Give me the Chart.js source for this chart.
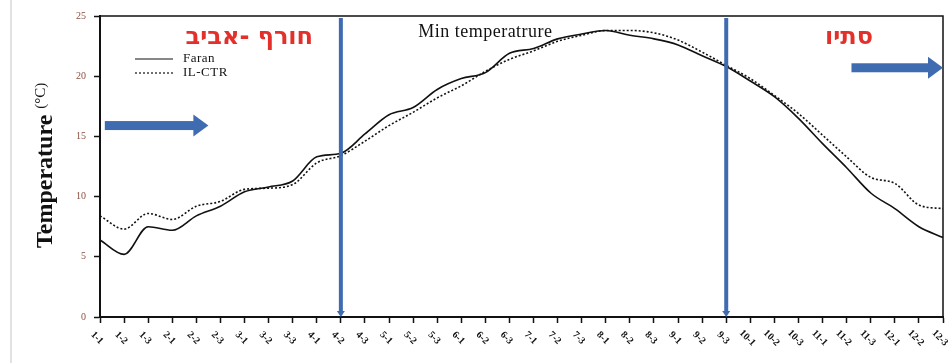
<!DOCTYPE html>
<html>
<head>
<meta charset="utf-8">
<script src="https://cdn.jsdelivr.net/npm/chart.js@4.4.0/dist/chart.umd.min.js"></script>
<style>
    body { margin: 0; background: #fff; }
    #caixa { width: 951px; height: 363px; position: relative; }
</style>
</head>
<body>
<div id="caixa"><canvas id="tempChart"></canvas></div>
<script>
// dekadas (mes-dekada)
var rotulos = ['1-1', '1-2', '1-3', '2-1', '2-2', '2-3', '3-1', '3-2', '3-3', '4-1', '4-2', '4-3',
    '5-1', '5-2', '5-3', '6-1', '6-2', '6-3', '7-1', '7-2', '7-3', '8-1', '8-2', '8-3',
    '9-1', '9-2', '9-3', '10-1', '10-2', '10-3', '11-1', '11-2', '11-3', '12-1', '12-2', '12-3']

var faran = [6.4, 5.2, 7.5, 7.2, 8.4, 9.2, 10.4, 10.8, 11.3, 13.3, 13.6, 15.2,
    16.8, 17.4, 18.9, 19.8, 20.3, 21.9, 22.3, 23.1, 23.5, 23.8, 23.4, 23.1,
    22.6, 21.7, 20.8, 19.6, 18.3, 16.5, 14.4, 12.4, 10.3, 9.0, 7.5, 6.6]

var ilCtr = [8.4, 7.3, 8.6, 8.1, 9.2, 9.6, 10.6, 10.7, 11.0, 12.8, 13.4, 14.6,
    15.9, 17.0, 18.2, 19.2, 20.4, 21.4, 22.1, 22.9, 23.4, 23.8, 23.8, 23.6,
    23.0, 22.0, 20.9, 19.8, 18.4, 16.9, 15.1, 13.3, 11.6, 11.1, 9.3, 9.0]

var marcos = ['4-2', '9-3']
var estacoes = ['חורף -אביב', 'סתיו']

var serif = '"Liberation Serif", "DejaVu Serif", serif'
var azul = '#3f6cb0'

function seta(ctx, x1, x2, y) {
    ctx.fillStyle = azul
    ctx.fillRect(x1, y - 4.5, x2 - x1 - 14, 9)
    ctx.beginPath()
    ctx.moveTo(x2 - 15, y - 11)
    ctx.lineTo(x2, y)
    ctx.lineTo(x2 - 15, y + 11)
    ctx.closePath()
    ctx.fill()
}

var decoracoes = {
    id: 'decoracoes',
    afterDatasetsDraw: function (chart) {
        var ctx = chart.ctx
        var area = chart.chartArea
        var sx = chart.scales.x
        var sy = chart.scales.y

        ctx.save()
        // moldura superior e direita
        ctx.strokeStyle = '#111'
        ctx.lineWidth = 1.5
        ctx.beginPath()
        ctx.moveTo(area.left, area.top)
        ctx.lineTo(area.right, area.top)
        ctx.lineTo(area.right, area.bottom)
        ctx.stroke()

        // linha cinza na borda esquerda
        ctx.strokeStyle = '#e2e2e2'
        ctx.lineWidth = 2
        ctx.beginPath()
        ctx.moveTo(11, 0)
        ctx.lineTo(11, chart.height)
        ctx.stroke()

        // separadores das estacoes
        marcos.forEach(function (m) {
            var px = sx.getPixelForValue(rotulos.indexOf(m))
            ctx.fillStyle = azul
            ctx.fillRect(px - 2, area.top + 2, 4, area.bottom - area.top - 6)
            ctx.beginPath()
            ctx.moveTo(px - 4, area.bottom - 6)
            ctx.lineTo(px + 4, area.bottom - 6)
            ctx.lineTo(px, area.bottom)
            ctx.closePath()
            ctx.fill()
        })

        seta(ctx, sx.getPixelForValue(0.2), sx.getPixelForValue(4.5), sy.getPixelForValue(15.9))
        seta(ctx, sx.getPixelForValue(31.2), area.right, sy.getPixelForValue(20.7))

        // nomes das estacoes
        ctx.fillStyle = '#e3302b'
        ctx.font = 'bold 24px "DejaVu Sans", "Liberation Sans", sans-serif'
        ctx.textAlign = 'center'
        ctx.textBaseline = 'middle'
        ctx.fillText(estacoes[0], sx.getPixelForValue(6.2), sy.getPixelForValue(23.2))
        ctx.fillText(estacoes[1], sx.getPixelForValue(31.1), sy.getPixelForValue(23.2))

        // titulo
        ctx.fillStyle = '#111'
        ctx.font = '18px ' + serif
        ctx.textBaseline = 'alphabetic'
        ctx.letterSpacing = '0.5px'
        ctx.fillText('Min temperatrure', sx.getPixelForValue(16), area.top + 21)

        // legenda
        ctx.font = '13px ' + serif
        ctx.textAlign = 'left'
        ctx.textBaseline = 'middle'
        chart.data.datasets.forEach(function (ds, i) {
            var ly = area.top + 43 + i * 14
            ctx.strokeStyle = '#111'
            ctx.lineWidth = 1.2
            ctx.setLineDash(ds.borderDash || [])
            ctx.beginPath()
            ctx.moveTo(area.left + 35, ly)
            ctx.lineTo(area.left + 73, ly)
            ctx.stroke()
            ctx.setLineDash([])
            ctx.fillText(ds.label, area.left + 83, ly)
        })
        ctx.letterSpacing = '0px'

        // rotulos do eixo x
        ctx.font = 'bold 10px ' + serif
        ctx.textAlign = 'center'
        rotulos.forEach(function (r, i) {
            ctx.save()
            ctx.translate(sx.getPixelForTick(i) - 3, area.bottom + 21)
            ctx.rotate(Math.PI / 4)
            ctx.fillText(r, 0, 0)
            ctx.restore()
        })

        // titulo do eixo y
        ctx.translate(52, 248)
        ctx.rotate(-Math.PI / 2)
        ctx.textAlign = 'left'
        ctx.textBaseline = 'alphabetic'
        ctx.font = 'bold 24px ' + serif
        ctx.fillText('Temperature', 0, 0)
        var w = ctx.measureText('Temperature ').width
        ctx.font = '15px ' + serif
        ctx.fillText('(°C)', w, -7)
        ctx.restore()
    }
}

var canvas = document.getElementById('tempChart')

var tempChart = new Chart(canvas, {
    type: 'line',
    data: {
        labels: rotulos,
        datasets: [{
            label: 'Faran',
            data: faran,
            borderColor: '#111',
            borderWidth: 1.6,
            pointRadius: 0,
            cubicInterpolationMode: 'monotone',
            fill: false,
        }, {
            label: 'IL-CTR',
            data: ilCtr,
            borderColor: '#111',
            borderWidth: 1.6,
            borderDash: [2, 2],
            pointRadius: 0,
            cubicInterpolationMode: 'monotone',
            fill: false,
        }],
    },
    options: {
        responsive: true,
        maintainAspectRatio: false,
        animation: false,
        layout: {
            padding: { left: 0, top: 16, right: 8, bottom: 0 }
        },
        plugins: {
            legend: { display: false },
            tooltip: { enabled: false },
        },
        scales: {
            x: {
                ticks: { display: false },
                grid: { drawOnChartArea: false, color: '#111', tickLength: 6, tickWidth: 1.5 },
                border: { color: '#111', width: 2 },
                afterFit: function (s) { s.height = 46 },
            },
            y: {
                min: 0,
                max: 25,
                ticks: { stepSize: 5, color: '#8a5040', padding: 8, font: { size: 10, family: serif } },
                grid: { drawOnChartArea: false, color: '#111', tickLength: 6, tickWidth: 1.5 },
                border: { color: '#111', width: 2 },
                afterFit: function (s) { s.width = 100 },
            },
        },
    },
    plugins: [decoracoes],
})
</script>
</body>
</html>
